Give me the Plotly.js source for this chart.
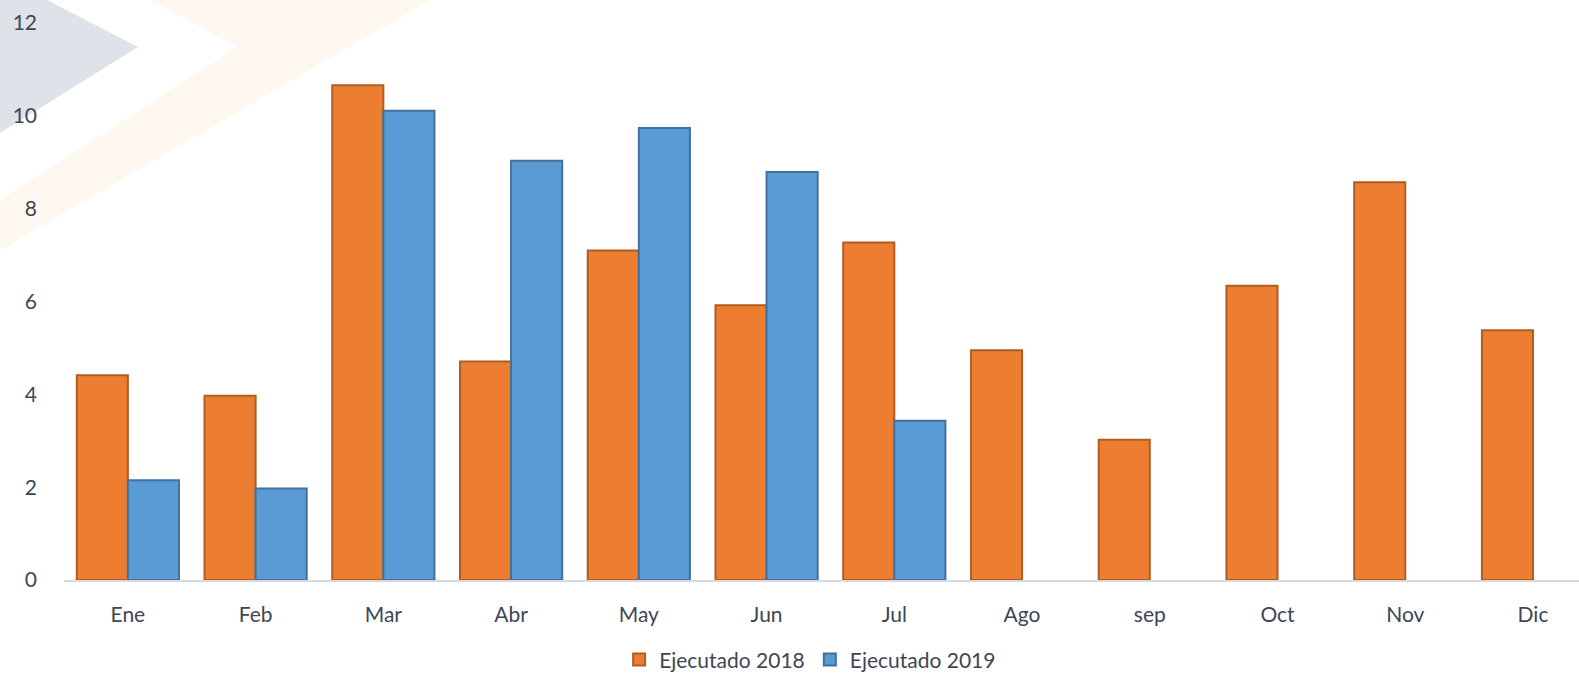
<!DOCTYPE html>
<html>
<head>
<meta charset="utf-8">
<script src="https://cdn.plot.ly/plotly-3.0.1.min.js"></script>
<style>html,body{margin:0;padding:0;background:#fff;}#chart{width:1579px;height:674px;}</style>
</head>
<body>
<div id="chart"></div>
<script>
const months = ["Ene","Feb","Mar","Abr","May","Jun","Jul","Ago","sep","Oct","Nov","Dic"];
const ejecutado2018 = [4.41, 3.97, 10.66, 4.71, 7.10, 5.92, 7.27, 4.95, 3.02, 6.34, 8.57, 5.38];
const ejecutado2019 = [2.15, 1.97, 10.11, 9.03, 9.74, 8.79, 3.43, null, null, null, null, null];
const yTicks = [0, 2, 4, 6, 8, 10, 12];

// plot area in pixels (for background decoration conversion)
const L = 64, R = 1579, T = 23, B = 580;
function px(x){ return ((x - L) / (R - L)).toFixed(4); }
function py(y){ return ((B - y) / (B - T)).toFixed(4); }
function path(pts){ return pts.map((p,i)=>(i? 'L':'M') + px(p[0]) + ',' + py(p[1])).join(' ') + ' Z'; }

const traces = [
  {type:'bar', name:'Ejecutado 2018', x: months, y: ejecutado2018,
   marker:{color:'#ED7D31', line:{color:'#B05D22', width:2}}},
  {type:'bar', name:'Ejecutado 2019', x: months, y: ejecutado2019,
   marker:{color:'#5B9BD5', line:{color:'#41719C', width:2}}}
];

const layout = {
  width:1579, height:674,
  margin:{l:L, r:1579-R, t:T, b:674-B, pad:0, autoexpand:false},
  paper_bgcolor:'#ffffff', plot_bgcolor:'rgba(0,0,0,0)',
  font:{family:'Lato, "Open Sans", sans-serif', size:21, color:'#404654'},
  barmode:'group', bargap:0.2, bargroupgap:0,
  showlegend:true,
  legend:{orientation:'h', x:0.4925, xanchor:'center', y:-0.18, yanchor:'bottom',
          font:{size:21, color:'#404654'}, itemwidth:30, traceorder:'normal', bgcolor:'rgba(0,0,0,0)'},
  xaxis:{type:'category', range:[-0.5, 11.36], showline:true, linecolor:'#d9d9d9', linewidth:2,
         showgrid:false, zeroline:false, ticks:'', ticklabelstandoff:15, fixedrange:true, automargin:false},
  yaxis:{range:[0,12], tickvals:yTicks, ticktext:yTicks.map(String), showgrid:false, zeroline:false,
         showline:false, ticks:'', ticklabelstandoff:26, fixedrange:true, automargin:false},
  shapes:[
    {type:'path', xref:'paper', yref:'paper', layer:'below', line:{width:0},
     fillcolor:'rgba(252,232,205,0.3)',
     path: path([[150,0],[430,0],[0,250],[0,200],[237,47]])},
    {type:'path', xref:'paper', yref:'paper', layer:'below', line:{width:0},
     fillcolor:'#dfe2e8',
     path: path([[0,0],[47,0],[138,47],[0,133]])}
  ]
};

Plotly.newPlot('chart', traces, layout, {displayModeBar:false, staticPlot:true});
</script>
</body>
</html>
